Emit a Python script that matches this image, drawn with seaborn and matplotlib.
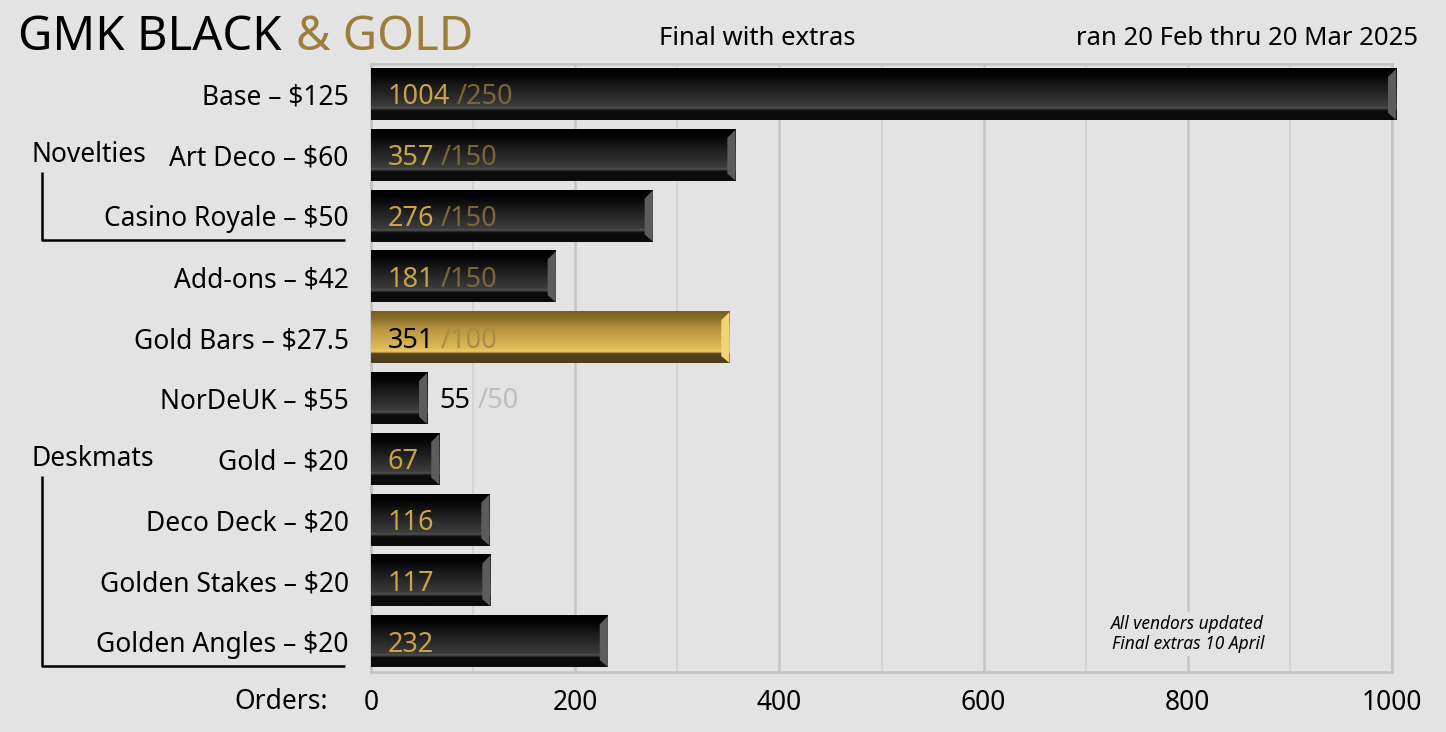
import numpy as np
import pandas as pd
import matplotlib
matplotlib.use('Agg')
import matplotlib.pyplot as plt
from matplotlib.colors import LinearSegmentedColormap
from matplotlib.patches import Polygon
from matplotlib.ticker import MultipleLocator
import seaborn as sns

# data
items = ['Base – $125', 'Art Deco – $60', 'Casino Royale – $50', 'Add-ons – $42',
         'Gold Bars – $27.5', 'NorDeUK – $55', 'Gold – $20', 'Deco Deck – $20',
         'Golden Stakes – $20', 'Golden Angles – $20']
orders = [1004, 357, 276, 181, 351, 55, 67, 116, 117, 232]
minimums = ['250', '150', '150', '150', '100', '50', '', '', '', '']
gold_item = 'Gold Bars – $27.5'
groups = {'Novelties': ['Art Deco – $60', 'Casino Royale – $50'],
          'Deskmats': ['Gold – $20', 'Deco Deck – $20', 'Golden Stakes – $20',
                       'Golden Angles – $20']}
x_ticks = [0, 200, 400, 600, 800, 1000]

BG = '#e3e3e3'
FONT = ['Noto Sans', 'DejaVu Sans']
LABEL_SIZE = 19

black_stops = [(0, '#000000'), (0.12, '#030303'), (0.3, '#151515'), (0.74, '#3c3c3c'),
               (0.77, '#525252'), (0.795, '#363636'), (0.82, '#0b0b0b'), (1, '#0b0b0b')]
gold_stops = [(0, '#7a5d1f'), (0.12, '#896b28'), (0.35, '#b8953f'), (0.74, '#e2bd5c'),
              (0.77, '#f0d070'), (0.795, '#d2ae52'), (0.82, '#54431e'), (1, '#4d3e1c')]


def gradient(stops, n=120):
    cmap = LinearSegmentedColormap.from_list('bar', stops)
    return cmap(np.linspace(0, 1, n))[:, None, :]


def style_bar(ax, patch, stops, bevel_color):
    x0, y0 = patch.get_x(), patch.get_y()
    w, h = patch.get_width(), patch.get_height()
    x1 = x0 + w
    img = ax.imshow(gradient(stops), extent=(x0, x1, y0 + h, y0), origin='upper',
                    aspect='auto', interpolation='bilinear', zorder=3)
    img.set_clip_on(False)
    b = 8
    bevel = Polygon([(x1 - b, y0 + 0.16 * h), (x1, y0), (x1, y0 + h), (x1 - b, y0 + 0.86 * h)],
                    closed=True, facecolor=bevel_color, edgecolor='none', zorder=4,
                    clip_on=False)
    ax.add_patch(bevel)


def plot_chart():
    sns.set_theme(style='white', rc={'axes.facecolor': BG, 'figure.facecolor': BG,
                                     'savefig.facecolor': BG})
    plt.rcParams['font.family'] = FONT

    df = pd.DataFrame({'Item': items, 'Orders': orders})

    fig = plt.figure(figsize=(14.46, 7.32), dpi=100)
    ax = fig.add_axes([0.2566, 0.082, 0.7061, 0.8306])

    sns.barplot(data=df, x='Orders', y='Item', orient='h', color='black',
                saturation=1, width=0.84, linewidth=0, edgecolor='none', ax=ax)

    bars = list(ax.patches)
    for item, patch in zip(items, bars):
        patch.set_clip_on(False)
        patch.set_linewidth(0)
        if item == gold_item:
            style_bar(ax, patch, gold_stops, '#f1d475')
        else:
            style_bar(ax, patch, black_stops, '#5c5c5c')

    ax.set_xlim(0, 1000)
    ax.set_ylim(len(items) - 0.5, -0.5)
    ax.set_xticks(x_ticks)
    ax.xaxis.set_minor_locator(MultipleLocator(100))
    ax.set_axisbelow(True)
    ax.grid(axis='x', which='major', color='#c5c5c5', lw=1.8)
    ax.grid(axis='x', which='minor', color='#d0d0d0', lw=1.1)
    ax.grid(axis='y', visible=False)
    for s in ax.spines.values():
        s.set_color('#c3c3c3')
        s.set_linewidth(1.8)
    ax.tick_params(which='both', length=0)
    ax.tick_params(axis='y', pad=16, labelsize=LABEL_SIZE, labelcolor='black')
    ax.tick_params(axis='x', pad=12, labelsize=LABEL_SIZE, labelcolor='black')
    ax.set_xlabel('')
    ax.set_ylabel('')

    # value labels
    for i, (v, m, item) in enumerate(zip(orders, minimums, items)):
        if v < 60:
            x, c_num, c_min = v + 12, 'black', '#bdbdbd'
        elif item == gold_item:
            x, c_num, c_min = 16, 'black', '#a78c49'
        else:
            x, c_num, c_min = 16, '#c9a449', '#7a6639'
        t = ax.text(x, i + 0.05, str(v), color=c_num, fontsize=19.5, va='center',
                    ha='left', zorder=6)
        if m:
            ax.annotate('/' + m, xy=(1, 0.5), xycoords=t, xytext=(5, 0),
                        textcoords='offset points', va='center', ha='left',
                        color=c_min, fontsize=19.5, zorder=6)

    # group brackets on the left
    ytr = ax.get_yaxis_transform()
    for name, members in groups.items():
        first = items.index(members[0])
        last = items.index(members[-1])
        ax.text(-0.333, first, name, transform=ytr, ha='left', va='center',
                fontsize=LABEL_SIZE, color='black')
        ax.plot([-0.322, -0.322, -0.0255], [first + 0.28, last + 0.4, last + 0.4],
                transform=ytr, color='black', lw=1.8, clip_on=False,
                solid_capstyle='butt')

    ax.text(-0.042, -0.049, 'Orders:', transform=ax.transAxes, ha='right', va='center',
            fontsize=LABEL_SIZE, color='black')

    ax.text(800, 8.88, 'All vendors updated\nFinal extras 10 April', ha='center',
            va='center', fontsize=12.5, style='italic', fontstretch='condensed',
            linespacing=1.15, color='black', zorder=5,
            bbox=dict(facecolor=BG, edgecolor='none', pad=2))

    # header
    t1 = fig.text(18 / 1446, 0.9317, 'GMK BLACK', fontsize=34, color='black',
                  fontweight='medium', ha='left', va='baseline')
    ax.annotate('& GOLD', xy=(1, 0), xycoords=t1, xytext=(10, 0),
                textcoords='offset points', fontsize=34, color='#9c7d3a',
                fontweight='medium', ha='left', va='bottom', annotation_clip=False)
    fig.text(757 / 1446, 0.9385, 'Final with extras', fontsize=18.5, color='black',
             ha='center', va='baseline')
    fig.text(1418 / 1446, 0.9385, 'ran 20 Feb thru 20 Mar 2025', fontsize=18.5,
             color='black', ha='right', va='baseline')

    fig.savefig('out.png', dpi=100, facecolor=BG)
    plt.close(fig)


if __name__ == '__main__':
    plot_chart()
